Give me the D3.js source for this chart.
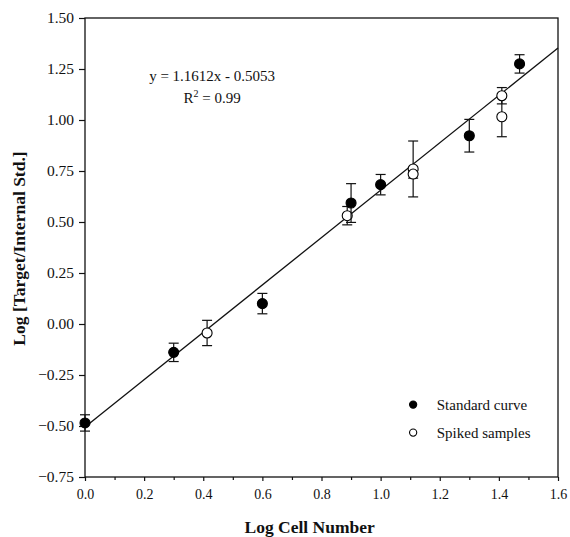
<!DOCTYPE html>
<html>
<head>
<meta charset="utf-8">
<script src="https://cdn.jsdelivr.net/npm/d3@7"></script>
<style>
  html, body { margin: 0; padding: 0; background: #fff; }
  svg { display: block; }
  text { font-family: "Liberation Serif", "Times New Roman", serif; fill: #111; }
</style>
</head>
<body>
<svg id="chart" width="570" height="537"></svg>
<script>
// ---- Data ----
const standardX   = [0.00, 0.30, 0.60, 0.90, 1.00, 1.30, 1.47];
const standardY   = [-0.485, -0.139, 0.100, 0.593, 0.683, 0.923, 1.275];
const standardErr = [0.040, 0.045, 0.050, 0.095, 0.050, 0.080, 0.045];

const spikedX   = [0.413, 0.887, 1.110, 1.110, 1.410, 1.410];
const spikedY   = [-0.044, 0.531, 0.760, 0.735, 1.119, 1.016];
const spikedErr = [0.062, 0.045, 0.137, 0.020, 0.040, 0.098];

const fitSlope = 1.1612;
const fitIntercept = -0.5053;
const fitRange = [0, 1.6];

const xTicks = [0.0, 0.2, 0.4, 0.6, 0.8, 1.0, 1.2, 1.4, 1.6];
const xMinorTicks = [0.1, 0.3, 0.5, 0.7, 0.9, 1.1, 1.3, 1.5];
const yTicks = [-0.75, -0.50, -0.25, 0.00, 0.25, 0.50, 0.75, 1.00, 1.25, 1.50];

const seriesNames = ["Standard curve", "Spiked samples"];
const equationLines = ["y = 1.1612x - 0.5053", "R", "2", " = 0.99"];
const xTitle = "Log Cell Number";
const yTitle = "Log [Target/Internal Std.]";

// ---- Layout ----
const margin = { left: 85, top: 18, right: 12, bottom: 60 };
const W = 570, H = 537;
const iw = W - margin.left - margin.right;   // 473
const ih = H - margin.top - margin.bottom;   // 459

const svg = d3.select("#chart");
const g = svg.append("g").attr("transform", `translate(${margin.left},${margin.top})`);

const x = d3.scaleLinear().domain([0, 1.6]).range([0, iw]);
const y = d3.scaleLinear().domain([-0.75, 1.5]).range([ih, 0]);

// frame
g.append("rect").attr("x", 0).attr("y", 0).attr("width", iw).attr("height", ih)
  .attr("fill", "none").attr("stroke", "#111").attr("stroke-width", 1.3);

// x axis
const xAxis = g.append("g").attr("transform", `translate(0,${ih})`)
  .call(d3.axisBottom(x).tickValues(xTicks).tickFormat(d3.format(".1f")).tickSize(4).tickPadding(8));
xAxis.select(".domain").remove();
xAxis.selectAll("line").attr("stroke", "#111").attr("stroke-width", 1.2);
xAxis.selectAll("text").attr("font-size", "14px").attr("fill", "#111")
  .style("font-family", '"Liberation Serif", serif');

const xMinor = g.append("g").attr("transform", `translate(0,${ih})`)
  .call(d3.axisBottom(x).tickValues(xMinorTicks).tickFormat("").tickSize(3));
xMinor.select(".domain").remove();
xMinor.selectAll("line").attr("stroke", "#111").attr("stroke-width", 1.2);

// y axis
const yAxis = g.append("g")
  .call(d3.axisLeft(y).tickValues(yTicks).tickFormat(d3.format(".2f")).tickSize(6).tickPadding(5));
yAxis.select(".domain").remove();
yAxis.selectAll("line").attr("stroke", "#111").attr("stroke-width", 1.2);
yAxis.selectAll("text").attr("font-size", "15.5px").attr("fill", "#111")
  .style("font-family", '"Liberation Serif", serif');

// axis titles
svg.append("text").attr("x", margin.left + x(0.76)).attr("y", 533)
  .attr("text-anchor", "middle").attr("font-size", "17.5px").attr("font-weight", "bold")
  .text(xTitle);
svg.append("text").attr("transform", `translate(25,${margin.top + y(0.37)}) rotate(-90)`)
  .attr("text-anchor", "middle").attr("font-size", "17.5px").attr("font-weight", "bold")
  .text(yTitle);

// regression line
g.append("line")
  .attr("x1", x(fitRange[0])).attr("y1", y(fitSlope * fitRange[0] + fitIntercept))
  .attr("x2", x(fitRange[1])).attr("y2", y(fitSlope * fitRange[1] + fitIntercept))
  .attr("stroke", "#111").attr("stroke-width", 1.3);

// equation text
g.append("text").attr("x", x(0.43)).attr("y", y(1.19))
  .attr("text-anchor", "middle").attr("font-size", "15px").text(equationLines[0]);
const r2 = g.append("text").attr("x", x(0.43)).attr("y", y(1.085))
  .attr("text-anchor", "middle").attr("font-size", "15px");
r2.append("tspan").text(equationLines[1]);
r2.append("tspan").attr("font-size", "10px").attr("dy", -6).text(equationLines[2]);
r2.append("tspan").attr("dy", 6).text(equationLines[3]);

// error bars + points
function drawSeries(xs, ys, es, filled) {
  const data = xs.map((d, i) => ({ x: d, y: ys[i], e: es[i] }));
  const eb = g.append("g");
  data.forEach(d => {
    const cx = x(d.x);
    eb.append("line").attr("x1", cx).attr("x2", cx)
      .attr("y1", y(d.y + d.e)).attr("y2", y(d.y - d.e))
      .attr("stroke", "#111").attr("stroke-width", 1.2);
    [d.y + d.e, d.y - d.e].forEach(v => {
      eb.append("line").attr("x1", cx - 5).attr("x2", cx + 5)
        .attr("y1", y(v)).attr("y2", y(v))
        .attr("stroke", "#111").attr("stroke-width", 1.2);
    });
  });
  g.append("g").selectAll("circle").data(data).join("circle")
    .attr("cx", d => x(d.x)).attr("cy", d => y(d.y)).attr("r", 5)
    .attr("fill", filled ? "#000" : "#fff")
    .attr("stroke", "#000").attr("stroke-width", 1.1);
}
drawSeries(spikedX, spikedY, spikedErr, false);
drawSeries(standardX, standardY, standardErr, true);

// legend
const legend = g.append("g");
seriesNames.forEach((name, i) => {
  const ly = y(-0.395) + i * 28;
  legend.append("circle").attr("cx", x(1.11)).attr("cy", ly).attr("r", 3.6)
    .attr("fill", i === 0 ? "#000" : "#fff").attr("stroke", "#000").attr("stroke-width", 1.1);
  legend.append("text").attr("x", x(1.19)).attr("y", ly + 5)
    .attr("font-size", "15px").text(name);
});
</script>
</body>
</html>
